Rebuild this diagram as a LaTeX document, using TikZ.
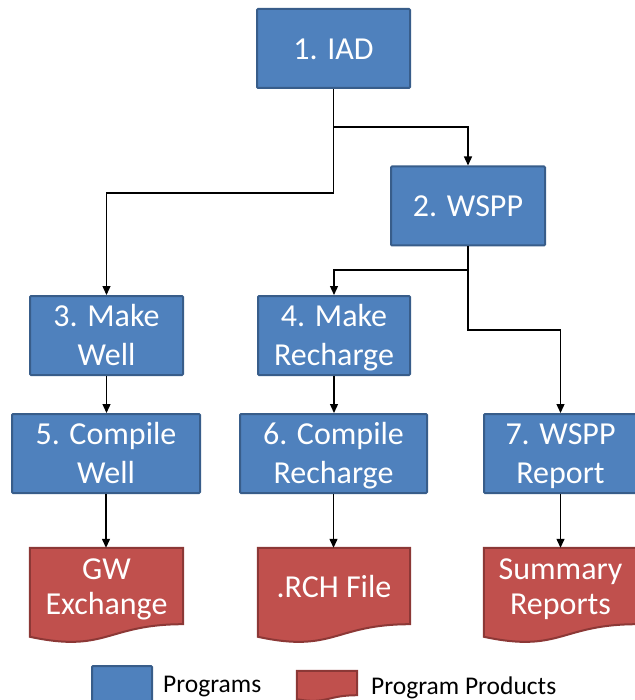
\documentclass[tikz,border=0pt]{standalone}
\usepackage{fontspec}
\setmainfont{Carlito}
\usetikzlibrary{arrows.meta,backgrounds,calc}

\definecolor{progfill}{HTML}{4F81BD}
\definecolor{progline}{HTML}{385D8A}
\definecolor{prodfill}{HTML}{C0504D}
\definecolor{prodline}{HTML}{8C3836}

% Fixed-size struts so that descenders do not shift the text inside a box;
% the top one can be made taller to lower the text a little.
\newcommand\linestrut{\rule[-0.25\baselineskip]{0pt}{\baselineskip}}
\newcommand\topstrut[1]{\rule{0pt}{\dimexpr0.75\baselineskip+#1\relax}}
% Two centred lines; the third argument lowers them inside the box
% without changing the height of the block
\newcommand\twoline[3]{\raisebox{0pt}[\height][\dimexpr\depth-#3\relax]{%
  \begin{tabular}{@{}c@{}}\rule{0pt}{\dimexpr\ht\strutbox+#3\relax}#1\\#2\end{tabular}}}

% Document outline behind a product node: the node covers the flat upper part,
% the wavy lower edge is added below it.
\newcommand\docpath[1]{%
  \begin{scope}[on background layer]
    \draw[prodshape] let \p1=(#1.north west), \p2=(#1.south east) in
      (\x1,\y1) -- (\x2,\y1) -- (\x2,\y2)
      .. controls ({0.5*(\x1+\x2)},\y2) and ({0.5*(\x1+\x2)},{\y1+1.381*(\y2-\y1)})
      .. (\x1,{\y1+1.1646*(\y2-\y1)}) -- cycle;
  \end{scope}}

\begin{document}
\begin{tikzpicture}[x=1pt,y=-1pt,
  textdrop/.style={execute at begin node={\topstrut{#1}}},
  boxtext/.style={text=white, inner sep=0pt, textdrop=0pt,
    execute at end node=\linestrut},
  prog/.style={boxtext, draw=progline, fill=progfill, line width=2pt,
    rounded corners=1pt, font=\fontsize{32}{39}\selectfont, minimum height=79pt},
  prod/.style={boxtext, font=\fontsize{32}{35}\selectfont, minimum height=76pt},
  prodshape/.style={draw=prodline, fill=prodfill, line width=2pt},
  conn/.style={line width=1.3pt, -{Triangle[length=9pt,width=8pt]}},
  legend/.style={font=\fontsize{25.5}{30}\selectfont, anchor=west, inner sep=0pt}]

\useasboundingbox (0,0) rectangle (634,700);

% programs
\node[prog, textdrop=2.5pt, minimum width=153pt] (n1) at (333.5,48.5) {1. IAD};
\node[prog, textdrop=2.5pt, minimum width=154pt] (n2) at (468,206) {2. WSPP};
\node[prog, minimum width=153pt] (n3) at (106.5,335.5) {\twoline{3. Make}{Well}{3pt}};
\node[prog, minimum width=152pt] (n4) at (334,335.5) {\twoline{4. Make}{Recharge}{3pt}};
\node[prog, minimum width=188pt] (n5) at (106,453.5) {\twoline{5. Compile}{Well}{3pt}};
\node[prog, minimum width=187pt] (n6) at (333.5,453.5) {\twoline{6. Compile}{Recharge}{3pt}};
\node[prog, minimum width=153pt] (n7) at (560.5,453.5) {\twoline{7. WSPP}{Report}{3pt}};

% program products
\node[prod, minimum width=153pt] (p1) at (106.5,586) {\twoline{GW}{Exchange}{3.8pt}};
\node[prod, textdrop=5pt, minimum width=152pt] (p2) at (334,586) {.RCH File};
\node[prod, minimum width=153pt] (p3) at (560.5,586) {\twoline{Summary}{Reports}{3.8pt}};
\docpath{p1}
\docpath{p2}
\docpath{p3}

% connectors
\coordinate (j1) at (n1.south |- 0,127);
\coordinate (j2) at (n2.south |- 0,270);
\draw[conn] (n1.south) -- (n1.south |- 0,193) -| (n3.north);
\draw[conn] (j1) -| (n2.north);
\draw[conn] (n2.south) -- (j2) -| (n4.north);
\draw[conn] (j2) -- (j2 |- 0,330) -| (n7.north);
\draw[conn] (n3.south) -- (n3.south |- n5.north);
\draw[conn] (n4.south) -- (n4.south |- n6.north);
\draw[conn] (n5.south) -- (n5.south |- p1.north);
\draw[conn] (n6.south) -- (n6.south |- p2.north);
\draw[conn] (n7.south) -- (n7.south |- p3.north);

% legend
\node[prog, minimum width=60pt, minimum height=31pt] (lg1) at (122,685.5) {};
\node[legend] (lt1) at (163,687) {Programs};
\node[inner sep=0pt, minimum width=60pt, minimum height=24pt] (lg2) at (327,683) {};
\docpath{lg2}
\node[legend] (lt2) at (371,688) {Program Products};
\end{tikzpicture}
\end{document}
